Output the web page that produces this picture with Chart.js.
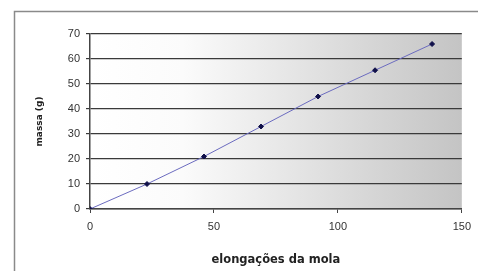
<!DOCTYPE html>
<html>
<head>
<meta charset="utf-8">
<script src="https://cdn.jsdelivr.net/npm/chart.js@4/dist/chart.umd.min.js"></script>
<style>
  html, body { margin: 0; padding: 0; background: #fff; }
  #wrap { width: 478px; height: 271px; position: relative; }
</style>
</head>
<body>
<div id="wrap"><canvas id="myChart" width="478" height="271"></canvas></div>
<script>
// elongação (x) vs massa (y)
const elongacoes = [0, 23, 46, 69, 92, 115, 138];
const massas = [0, 10, 21, 33, 45, 55.5, 66];
const xTicks = [0, 50, 100, 150];

// gray gradient behind plot + outer frame
const backdrop = {
  id: 'backdrop',
  beforeDraw(chart) {
    const {ctx, chartArea: a} = chart;
    ctx.save();
    const g = ctx.createLinearGradient(a.left, 0, a.right, 0);
    g.addColorStop(0, '#ffffff');
    g.addColorStop(0.25, '#fbfbfb');
    g.addColorStop(1, '#c4c4c4');
    ctx.fillStyle = g;
    ctx.fillRect(a.left, a.top, a.right - a.left, a.bottom - a.top);
    ctx.strokeStyle = '#8a8a8a';
    ctx.lineWidth = 1.5;
    ctx.beginPath();
    ctx.moveTo(14.5, 271);
    ctx.lineTo(14.5, 11.5);
    ctx.lineTo(478, 11.5);
    ctx.stroke();
    ctx.restore();
  }
};

const ctx = document.getElementById('myChart').getContext('2d');
const myChart = new Chart(ctx, {
  type: 'scatter',
  data: {
    datasets: [{
      data: elongacoes.map((x, i) => ({x: x, y: massas[i]})),
      showLine: true,
      borderColor: '#6b6bbf',
      borderWidth: 1,
      backgroundColor: '#10104a',
      pointBackgroundColor: '#10104a',
      pointBorderColor: '#10104a',
      pointRadius: 2.5,
      pointStyle: 'rectRot'
    }]
  },
  options: {
    responsive: false,
    animation: false,
    layout: { padding: { left: 34, top: 34, right: 15, bottom: 0 } },
    plugins: { legend: { display: false }, tooltip: { enabled: false } },
    scales: {
      x: {
        type: 'linear',
        min: 0, max: 150,
        afterBuildTicks: s => { s.ticks = xTicks.map(v => ({value: v})); },
        afterFit: s => { s.height = 62; },
        grid: { drawOnChartArea: false, color: '#444', tickLength: 4 },
        border: { color: '#444', width: 1.5 },
        ticks: { color: '#333', font: { family: 'Liberation Sans', size: 11 }, padding: 7, maxRotation: 0 },
        title: { display: true, text: 'elongações da mola', color: '#222', font: { family: 'DejaVu Sans', size: 11.5, weight: 'bold' }, padding: { top: 6 } }
      },
      y: {
        min: 0, max: 70,
        ticks: { stepSize: 10, color: '#333', font: { family: 'Liberation Sans', size: 11 }, padding: 6 },
        afterFit: s => { s.width = 56; },
        grid: { color: '#3a3a3a', lineWidth: 1.2, tickLength: 4 },
        border: { color: '#444', width: 1.5 },
        title: { display: true, text: 'massa (g)', color: '#222', font: { family: 'DejaVu Sans', size: 9, weight: 'bold' }, padding: 0 }
      }
    }
  },
  plugins: [backdrop]
});
</script>
</body>
</html>
